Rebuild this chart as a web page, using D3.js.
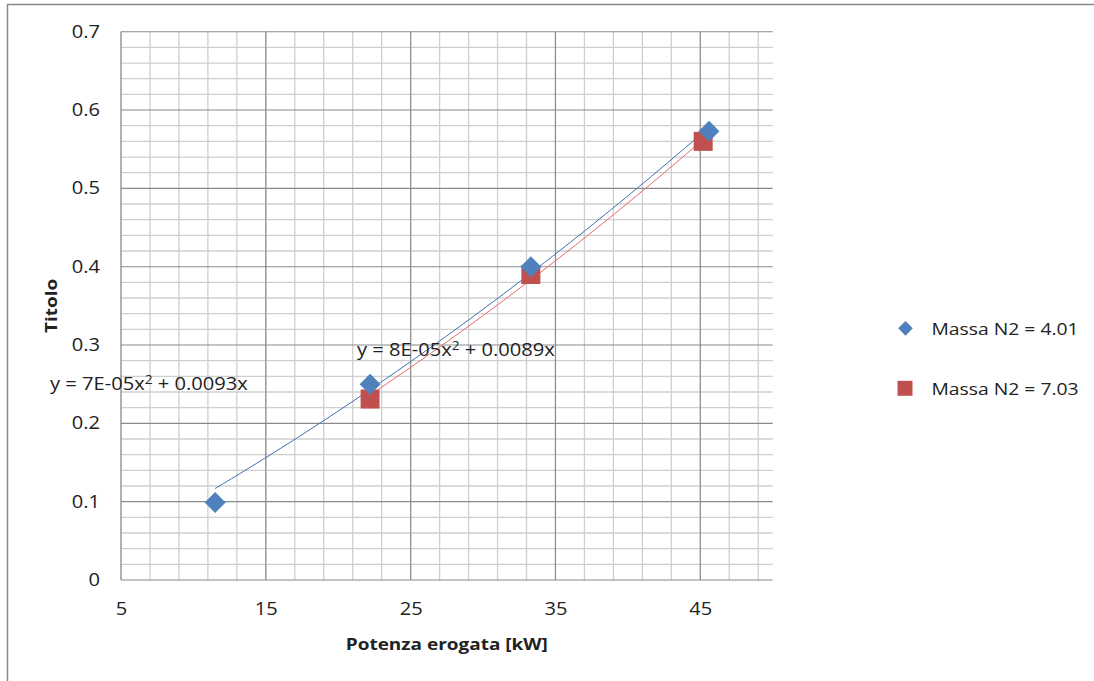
<!DOCTYPE html>
<html>
<head>
<meta charset="utf-8">
<script src="https://cdn.jsdelivr.net/npm/d3@7"></script>
<style>
  html, body { margin: 0; padding: 0; background: #fff; }
  svg { display: block; }
  text { font-family: "Open Sans", Lato, "Liberation Sans", sans-serif; fill: #222; }
</style>
</head>
<body>
<svg id="chart" width="1094" height="681"></svg>
<script>
// Titolo vs potenza erogata, two nitrogen loads
const seriesNames = ["Massa N2 = 4.01", "Massa N2 = 7.03"];
const powerA = [11.5, 22.2, 33.3, 45.6];
const titoloA = [0.099, 0.25, 0.40, 0.573];
const powerB = [22.2, 33.3, 45.2];
const titoloB = [0.231, 0.39, 0.56];

const xMajor = [5, 15, 25, 35, 45];
const xMinor = [5, 7, 9, 11, 13, 15, 17, 19, 21, 23, 25, 27, 29, 31, 33, 35, 37, 39, 41, 43, 45, 47, 49];
const yMajor = [0, 0.1, 0.2, 0.3, 0.4, 0.5, 0.6, 0.7];
const yMinor = [0.02, 0.04, 0.06, 0.08, 0.12, 0.14, 0.16, 0.18, 0.22, 0.24, 0.26, 0.28,
                0.32, 0.34, 0.36, 0.38, 0.42, 0.44, 0.46, 0.48, 0.52, 0.54, 0.56, 0.58,
                0.62, 0.64, 0.66, 0.68];

const colors = ["#4f81bd", "#c0504d"];
const lineColors = ["#3f6fae", "#e46a68"];
const SX = 1.15; // horizontal text stretch

const svg = d3.select("#chart");
const plot = { left: 121, right: 772.7, top: 31.7, bottom: 580 };

const x = d3.scaleLinear().domain([5, 50]).range([plot.left, plot.right]);
const y = d3.scaleLinear().domain([0, 0.7]).range([plot.bottom, plot.top]);

// least-squares fit y = a*x^2 + b*x (no intercept)
function fitQuadOrigin(xs, ys) {
  let s2 = 0, s3 = 0, s4 = 0, t1 = 0, t2 = 0;
  xs.forEach((v, i) => {
    s2 += v * v; s3 += v * v * v; s4 += v * v * v * v;
    t1 += v * ys[i]; t2 += v * v * ys[i];
  });
  const det = s4 * s2 - s3 * s3;
  return [(t2 * s2 - s3 * t1) / det, (s4 * t1 - s3 * t2) / det];
}
function fmtCoef(v) {
  if (Math.abs(v) < 1e-3) {
    const [m, e] = v.toExponential(0).split("e");
    const ev = +e;
    return m + "E" + (ev < 0 ? "-" : "+") + String(Math.abs(ev)).padStart(2, "0");
  }
  return String(+v.toFixed(4));
}
const trendA = fitQuadOrigin(powerA, titoloA);
const trendB = fitQuadOrigin(powerB, titoloB);

function label(parent, px, py, str, size, opts = {}) {
  return parent.append("text")
    .attr("transform", `translate(${px},${py})${opts.rotate ? " rotate(" + opts.rotate + ")" : ""} scale(${SX},1)`)
    .attr("text-anchor", opts.anchor || "start")
    .style("font-size", size + "px")
    .style("font-weight", opts.bold ? "bold" : "normal")
    .text(str);
}

// trendline equation with a raised exponent
function equation(px, py, c, size) {
  const t = label(svg, px, py, "", size);
  t.append("tspan").text(`y = ${fmtCoef(c[0])}x`);
  t.append("tspan").attr("dy", -6.5).style("font-size", (size * 0.68) + "px").text("2");
  t.append("tspan").attr("dy", 6.5).text(` + ${fmtCoef(c[1])}x`);
}

// outer chart frame (partly outside the view)
svg.append("path")
  .attr("d", `M7.5,681 L7.5,4.5 L1094,4.5`)
  .attr("fill", "none").attr("stroke", "#888").attr("stroke-width", 1.5);

// gridlines
const grid = svg.append("g");
grid.selectAll(".vmin").data(xMinor).join("line")
  .attr("x1", d => x(d)).attr("x2", d => x(d))
  .attr("y1", plot.top).attr("y2", plot.bottom)
  .attr("stroke", "#cfcfcf").attr("stroke-width", 1.3);
grid.selectAll(".hmin").data(yMinor).join("line")
  .attr("x1", plot.left).attr("x2", plot.right)
  .attr("y1", d => y(d)).attr("y2", d => y(d))
  .attr("stroke", "#cfcfcf").attr("stroke-width", 1.3);
grid.selectAll(".vmaj").data(xMajor).join("line")
  .attr("x1", d => x(d)).attr("x2", d => x(d))
  .attr("y1", plot.top).attr("y2", plot.bottom)
  .attr("stroke", "#8a8a8a").attr("stroke-width", 1.1);
grid.selectAll(".hmaj").data(yMajor).join("line")
  .attr("x1", plot.left).attr("x2", plot.right)
  .attr("y1", d => y(d)).attr("y2", d => y(d))
  .attr("stroke", "#8a8a8a").attr("stroke-width", 1.1);

// axes (labels only; lines come from the grid)
const xAxis = svg.append("g")
  .attr("transform", `translate(0,${plot.bottom})`)
  .call(d3.axisBottom(x).tickValues(xMajor).tickSize(0).tickPadding(23).tickFormat(d3.format("d")));
const yAxis = svg.append("g")
  .attr("transform", `translate(${plot.left},0)`)
  .call(d3.axisLeft(y).tickValues(yMajor).tickSize(0).tickPadding(21).tickFormat(d3.format("~g")));
[xAxis, yAxis].forEach(g => {
  g.select(".domain").remove();
  g.selectAll("text")
    .style("font-size", "17.5px")
    .style("font-family", "'Open Sans', Lato, sans-serif")
    .attr("fill", "#222")
    .attr("transform", `scale(${SX},1)`);
});
yAxis.selectAll("text").attr("x", -21 / SX);

// trendlines
function curve(coef, xs) {
  const lo = d3.min(xs), hi = d3.max(xs);
  const n = 60;
  return d3.range(n + 1).map(i => {
    const v = lo + (hi - lo) * i / n;
    return [v, coef[0] * v * v + coef[1] * v];
  });
}
const line = d3.line().x(d => x(d[0])).y(d => y(d[1]));
svg.append("path").datum(curve(trendA, powerA)).attr("d", line)
  .attr("fill", "none").attr("stroke", lineColors[0]).attr("stroke-width", 1);
svg.append("path").datum(curve(trendB, powerB)).attr("d", line)
  .attr("fill", "none").attr("stroke", lineColors[1]).attr("stroke-width", 1);

// markers
const diamond = d3.symbol(d3.symbolSquare, 220)();
const square = d3.symbol(d3.symbolSquare, 361)();
svg.append("g").selectAll("path").data(d3.zip(powerB, titoloB)).join("path")
  .attr("d", square)
  .attr("transform", d => `translate(${x(d[0])},${y(d[1])})`)
  .attr("fill", colors[1]);
svg.append("g").selectAll("path").data(d3.zip(powerA, titoloA)).join("path")
  .attr("d", diamond)
  .attr("transform", d => `translate(${x(d[0])},${y(d[1])}) rotate(45)`)
  .attr("fill", colors[0]);

// trendline equations
equation(50, 390, trendA, 17.5);
equation(357, 356, trendB, 17.5);

// axis titles
label(svg, (plot.left + plot.right) / 2, 649.5, "Potenza erogata [kW]", 16.5, { anchor: "middle", bold: true });
label(svg, 57, (plot.top + plot.bottom) / 2, "Titolo", 16.5, { anchor: "middle", bold: true, rotate: -90 });

// legend
const legend = svg.append("g");
legend.append("path").attr("d", d3.symbol(d3.symbolSquare, 108)())
  .attr("transform", "translate(905.5,328.3) rotate(45)").attr("fill", colors[0]);
legend.append("path").attr("d", d3.symbol(d3.symbolSquare, 225)())
  .attr("transform", "translate(905,388.3)").attr("fill", colors[1]);
label(legend, 931.5, 334.5, seriesNames[0], 16.8);
label(legend, 931.5, 394.5, seriesNames[1], 16.8);
</script>
</body>
</html>
